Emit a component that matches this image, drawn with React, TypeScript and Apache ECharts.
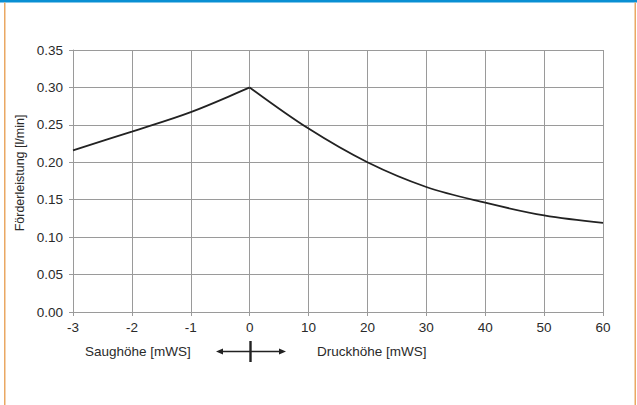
import React, { useEffect, useRef } from "react";
import * as echarts from "echarts";

// Tick labels of the (piecewise) x axis: suction height -3..0, then pressure height 0..60
const xTickLabels = ["-3", "-2", "-1", "0", "10", "20", "30", "40", "50", "60"];
// Suction side (Saughöhe) in mWS and flow in l/min
const suctionHeights = [-3, -2, -1, 0];
const suctionFlow = [0.216, 0.241, 0.267, 0.3];
// Pressure side (Druckhöhe) in mWS and flow in l/min
const pressureHeights = [0, 10, 20, 30, 40, 50, 60];
const pressureFlow = [0.3, 0.245, 0.2, 0.167, 0.146, 0.129, 0.119];

const toPos = (h: number) => (h <= 0 ? h + 3 : 3 + h / 10);

export default function App() {
  const ref = useRef<HTMLDivElement>(null);
  useEffect(() => {
    if (!ref.current) return;
    const chart = echarts.init(ref.current, undefined, { renderer: "svg" });
    const font = "Liberation Sans, Arial, sans-serif";
    const textColor = "#2a2a2a";
    const gridColor = "#9a9a9a";
    chart.setOption({
      animation: false,
      backgroundColor: "#ffffff",
      textStyle: { fontFamily: font },
      grid: { left: 73, right: 34, top: 50, bottom: 93 },
      xAxis: {
        type: "value",
        min: 0,
        max: 9,
        interval: 1,
        axisLine: { show: true, lineStyle: { color: gridColor, width: 1 } },
        axisTick: { show: true, length: 4, lineStyle: { color: gridColor } },
        splitLine: { show: true, lineStyle: { color: gridColor, width: 1 } },
        axisLabel: {
          color: textColor,
          fontSize: 13.5,
          fontFamily: font,
          margin: 8,
          formatter: (v: number) => xTickLabels[Math.round(v)] ?? "",
        },
      },
      yAxis: {
        type: "value",
        min: 0,
        max: 0.35,
        interval: 0.05,
        axisLine: { show: true, lineStyle: { color: gridColor, width: 1 } },
        axisTick: { show: true, length: 4, lineStyle: { color: gridColor } },
        splitLine: { show: true, lineStyle: { color: gridColor, width: 1 } },
        axisLabel: {
          color: textColor,
          fontSize: 13.5,
          fontFamily: font,
          margin: 10,
          formatter: (v: number) => v.toFixed(2),
        },
      },
      series: [
        {
          type: "line",
          data: suctionHeights.map((h, i) => [toPos(h), suctionFlow[i]]),
          smooth: 0.35,
          showSymbol: false,
          lineStyle: { color: "#222", width: 1.8 },
        },
        {
          type: "line",
          data: pressureHeights.map((h, i) => [toPos(h), pressureFlow[i]]),
          smooth: 0.35,
          showSymbol: false,
          lineStyle: { color: "#222", width: 1.8 },
        },
      ],
      graphic: [
        { type: "rect", shape: { x: 0, y: 0, width: 637, height: 2.5 }, style: { fill: "#0a8fd3" } },
        { type: "rect", shape: { x: 4, y: 2.5, width: 1.5, height: 403 }, style: { fill: "#eaa863" } },
        { type: "rect", shape: { x: 634.5, y: 2.5, width: 1.5, height: 403 }, style: { fill: "#eaa863" } },
        {
          type: "text",
          x: 20,
          y: 173,
          rotation: Math.PI / 2,
          style: {
            text: "Förderleistung [l/min]",
            fill: textColor,
            font: `12.5px ${font}`,
            align: "center",
            verticalAlign: "middle",
          },
        },
        {
          type: "text",
          x: 85,
          y: 351,
          style: {
            text: "Saughöhe [mWS]",
            fill: textColor,
            font: `13.5px ${font}`,
            align: "left",
            verticalAlign: "middle",
          },
        },
        {
          type: "text",
          x: 317,
          y: 351,
          style: {
            text: "Druckhöhe [mWS]",
            fill: textColor,
            font: `13.5px ${font}`,
            align: "left",
            verticalAlign: "middle",
          },
        },
        { type: "line", shape: { x1: 221, y1: 351.5, x2: 281, y2: 351.5 }, style: { stroke: "#222", lineWidth: 1.6 } },
        { type: "line", shape: { x1: 250.5, y1: 341, x2: 250.5, y2: 362 }, style: { stroke: "#222", lineWidth: 2.4 } },
        { type: "polygon", shape: { points: [[216, 351.5], [223, 348.5], [223, 354.5]] }, style: { fill: "#222" } },
        { type: "polygon", shape: { points: [[286, 351.5], [279, 348.5], [279, 354.5]] }, style: { fill: "#222" } },
      ],
    });
    return () => chart.dispose();
  }, []);
  return (
    <div
      ref={ref}
      style={{ position: "fixed", left: 0, top: 0, width: 637, height: 405 }}
    />
  );
}
